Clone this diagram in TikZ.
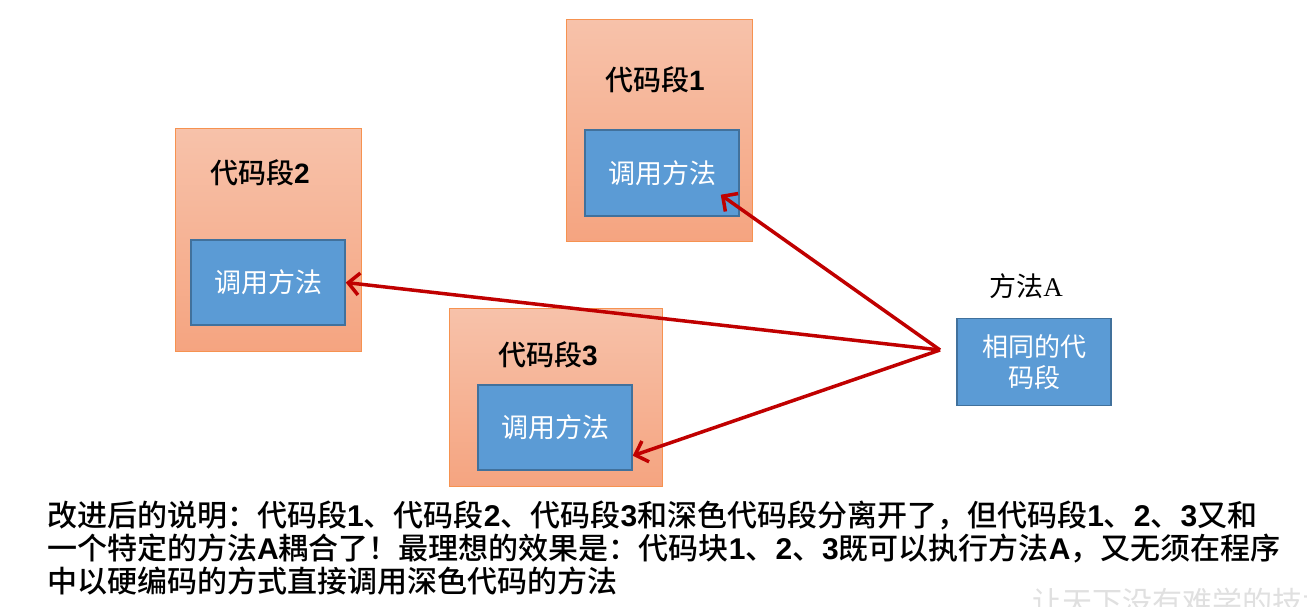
\documentclass[tikz,border=0pt]{standalone}
\usepackage{fontspec}
\setmainfont{Noto Sans CJK SC}
\newfontfamily\cjkmed{Noto Sans CJK SC Medium}
\newfontfamily\libsans{Liberation Sans}
\newfontfamily\libserif{Liberation Serif}
\usetikzlibrary{arrows.meta,calc}
\newcommand\dg[1]{{\libsans\bfseries #1}}
\definecolor{orTop}{RGB}{247,194,170}
\definecolor{orBot}{RGB}{245,164,128}
\definecolor{orLine}{RGB}{246,146,80}
\definecolor{bluFill}{RGB}{91,155,213}
\definecolor{bluLine}{RGB}{65,113,156}
\definecolor{arrRed}{RGB}{192,0,0}
\tikzset{
  outerbox/.style={draw=orLine, line width=1pt, top color=orTop, bottom color=orBot, inner sep=0pt},
  innerbox/.style={draw=bluLine, line width=1.5pt, fill=bluFill, inner sep=0pt, text=white,
    font=\fontsize{27}{33}\selectfont, align=center},
  seglabel/.style={font=\cjkmed\fontsize{28}{34}\selectfont, inner sep=0pt},
  callarrow/.style={draw=arrRed, line width=3.5pt, -{Straight Barb[length=11pt,width=22pt]}},
}
\begin{document}
\begin{tikzpicture}[x=1pt,y=-1pt]
\useasboundingbox[fill=white] (0,0) rectangle (1307,607);
% outer boxes
\node[outerbox, minimum width=186pt, minimum height=221pt] (b1) at (659,130.5) {};
\node[outerbox, minimum width=186pt, minimum height=222pt] (b2) at (268,240) {};
\node[outerbox, minimum width=213pt, minimum height=178pt] (b3) at (555.5,397) {};
% labels
\node[seglabel] (l1) at (655,80) {代码段\dg{1}};
\node[seglabel] (l2) at (260,173) {代码段\dg{2}};
\node[seglabel] (l3) at (548,355) {代码段\dg{3}};
% inner boxes
\node[innerbox, minimum width=154pt, minimum height=86pt] (in1) at (662,173) {调用方法};
\node[innerbox, minimum width=154pt, minimum height=85pt] (in2) at (268,282.5) {调用方法};
\node[innerbox, minimum width=154pt, minimum height=85pt] (in3) at (555,427.5) {调用方法};
% method A
\node[inner sep=0pt, font=\fontsize{27}{33}\selectfont] (la) at (1026,286) {方法{\libserif A}};
\node[innerbox, minimum width=154pt, minimum height=87pt, font=\fontsize{26}{31}\selectfont] (ma) at (1034,362) {相同的代\\码段};
% arrows
\coordinate (src) at (940,350);
\coordinate (t1) at ($(in1.south east)+(-19,-22)$);
\coordinate (t3) at ($(in3.south east)+(0,-15)$);
\draw[callarrow] (src) -- (t1);
\draw[callarrow] (src) -- (in2.east);
\draw[callarrow] (src) -- (t3);
% explanation text
\node[anchor=north west, inner sep=0pt, align=left, font=\cjkmed\fontsize{30}{33}\selectfont] (txt) at (47,501)
{改进后的说明：代码段\dg{1}、代码段\dg{2}、代码段\dg{3}和深色代码段分离开了，但代码段\dg{1}、\dg{2}、\dg{3}又和\\
一个特定的方法\dg{A}耦合了！最理想的效果是：代码块\dg{1}、\dg{2}、\dg{3}既可以执行方法\dg{A}，又无须在程序\\
中以硬编码的方式直接调用深色代码的方法};
% watermark (cut off at the lower edge, as in the reference)
\node[anchor=north west, inner sep=0pt, text=black!12, font=\fontsize{30}{34}\selectfont] (wm) at (1032,588) {让天下没有难学的技术};
\end{tikzpicture}
\end{document}
